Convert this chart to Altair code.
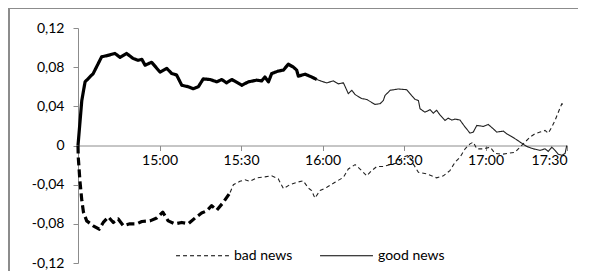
import altair as alt
import pandas as pd

# minutes after 14:30
good_minutes = [0, 1.4, 2.6, 5.6, 8.7, 11.0, 13.6, 15.5, 17.9, 20.2, 22.1, 23.5, 24.7, 27.1,
                30.2, 32.7, 34.5, 36.3, 38.2, 40.6, 42.4, 44.3, 46.1, 48.6, 51.1, 52.9, 54.7,
                56.6, 60.3, 62.7, 65.8, 67.6, 68.8, 70.1, 71.3, 73.7, 75.6, 77.4, 79.3, 80.5,
                81.1, 83.6, 86.0, 87.9, 90.3, 91.6, 94.0, 95.8, 97.7, 99.5, 100.8, 102.0, 104.4,
                106.3, 108.1, 109.3, 111.2, 112.4, 113.0, 114.9, 117.9, 121.0, 122.8, 124.1,
                125.3, 125.9, 127.7, 129.6, 130.8, 132.0, 133.3, 135.1, 136.3, 137.6, 138.8,
                140.6, 142.5, 144.3, 145.5, 146.8, 149.2, 151.0, 152.9, 154.1, 156.6, 157.8,
                159.6, 161.5, 163.3, 165.2, 167.6, 170.1, 171.9, 173.1, 174.4, 175.6, 176.8,
                178.1, 179.3, 179.9]
good_values = [0, 0.046, 0.065, 0.0735, 0.0906, 0.092, 0.094, 0.090, 0.094, 0.089, 0.087, 0.088,
               0.082, 0.085, 0.075, 0.0787, 0.0735, 0.072, 0.0615, 0.060, 0.058, 0.060, 0.068,
               0.0674, 0.065, 0.0674, 0.064, 0.0674, 0.0615, 0.065, 0.0667, 0.066, 0.070, 0.065,
               0.0735, 0.076, 0.077, 0.083, 0.080, 0.077, 0.0708, 0.0728, 0.070, 0.0674, 0.065,
               0.064, 0.066, 0.063, 0.064, 0.053, 0.0564, 0.052, 0.048, 0.047, 0.044, 0.042,
               0.0427, 0.046, 0.051, 0.0564, 0.0577, 0.057, 0.051, 0.047, 0.046, 0.0376, 0.034,
               0.0366, 0.033, 0.036, 0.031, 0.0256, 0.028, 0.026, 0.027, 0.026, 0.0188, 0.0126,
               0.0137, 0.0205, 0.0195, 0.0215, 0.017, 0.0137, 0.0147, 0.012, 0.0092, 0.0058,
               0.0024, -0.001, -0.0034, -0.005, -0.0034, -0.006, -0.0017, -0.005, -0.009,
               -0.010, -0.008, 0.0]
good_bold_until = 87.9

bad_minutes = [0, 0.1, 0.7, 1.4, 2.0, 3.2, 5.6, 7.8, 9.3, 11.2, 13.0, 14.8, 16.7, 19.1, 21.6,
               23.5, 26.5, 29.0, 31.2, 33.2, 35.7, 38.2, 40.6, 43.1, 45.5, 47.4, 49.2, 51.1,
               53.5, 56.0, 57.2, 59.6, 61.5, 63.3, 65.8, 68.8, 71.3, 73.7, 75.6, 78.0, 80.5,
               82.9, 84.8, 86.0, 87.2, 89.1, 91.6, 94.6, 97.7, 99.5, 102.0, 104.4, 106.3,
               108.1, 110.0, 112.4, 114.9, 117.3, 119.7, 121.6, 123.4, 125.3, 128.4, 132.0,
               134.5, 136.9, 138.8, 140.6, 142.5, 144.3, 145.5, 146.8, 149.2, 151.7, 153.5,
               156.0, 158.4, 160.9, 162.7, 164.5, 166.4, 168.2, 170.1, 171.9, 173.1, 174.4,
               175.6, 176.8, 178.1, 179.3]
bad_values = [0, -0.012, -0.036, -0.056, -0.068, -0.077, -0.082, -0.0855, -0.0786, -0.073,
              -0.0786, -0.075, -0.082, -0.080, -0.080, -0.0776, -0.077, -0.074, -0.068, -0.077,
              -0.080, -0.0786, -0.080, -0.074, -0.069, -0.0667, -0.0615, -0.066, -0.058, -0.048,
              -0.040, -0.0366, -0.035, -0.0366, -0.033, -0.032, -0.031, -0.034, -0.044, -0.040,
              -0.0376, -0.036, -0.0434, -0.046, -0.0537, -0.046, -0.0427, -0.0376, -0.0325,
              -0.024, -0.0195, -0.0256, -0.031, -0.0256, -0.0215, -0.0215, -0.0195, -0.018,
              -0.012, -0.010, -0.0188, -0.0274, -0.029, -0.033, -0.031, -0.0256, -0.017, -0.012,
              -0.0034, 0.0017, 0.0034, -0.0034, -0.0034, -0.0017, -0.008, -0.009, -0.008,
              -0.0069, -0.0017, 0.0034, 0.0085, 0.012, 0.0137, 0.0154, 0.0126, 0.0188, 0.0256,
              0.034, 0.0427, 0.041]
bad_bold_until = 56.0

series_names = ["bad news", "good news"]
x_tick_values = [30, 60, 90, 120, 150, 180]
y_tick_values = [-0.12, -0.08, -0.04, 0, 0.04, 0.08, 0.12]

rows = []
for name, mins, vals, cut in [("good news", good_minutes, good_values, good_bold_until),
                              ("bad news", bad_minutes, bad_values, bad_bold_until)]:
    for m, v in zip(mins, vals):
        if m <= cut:
            rows.append({"minute": m, "value": v, "series": name, "seg": "bold"})
        if m >= cut:
            rows.append({"minute": m, "value": v, "series": name, "seg": "thin"})
df = pd.DataFrame(rows)

FONT = "Lato"
GRAY = "#8c8c8c"

x_enc = alt.X("minute:Q",
              scale=alt.Scale(domain=[0, 180], nice=False, zero=False),
              axis=alt.Axis(values=x_tick_values, title=None, offset=-117.5,
                            labelExpr="floor((870 + datum.value) / 60) + ':' + (((870 + datum.value) % 60) == 0 ? '00' : '30')",
                            domainColor=GRAY, tickColor=GRAY, tickSize=5, labelPadding=3,
                            labelFont=FONT, labelFontSize=14, labelColor="black", grid=False))
y_enc = alt.Y("value:Q",
              scale=alt.Scale(domain=[-0.12, 0.12], nice=False),
              axis=alt.Axis(values=y_tick_values, title=None,
                            labelExpr="datum.value == 0 ? '0' : (datum.value < 0 ? '-' : '') + replace(format(abs(datum.value), '.2f'), '.', ',')",
                            domainColor=GRAY, tickColor=GRAY, tickSize=5, labelPadding=9,
                            labelFont=FONT, labelFontSize=14, labelColor="black", grid=False))
dash_thin = alt.StrokeDash("series:N",
                           scale=alt.Scale(domain=series_names, range=[[4, 3], [1, 0]]),
                           legend=alt.Legend(title=None, orient="none", legendX=97, legendY=200,
                                             direction="horizontal", symbolType="stroke",
                                             symbolSize=2800, symbolStrokeWidth=1.2,
                                             symbolStrokeColor="black", labelFont=FONT,
                                             labelFontSize=14, labelColor="black", labelOffset=4,
                                             columnPadding=24, padding=0))
dash_bold = alt.StrokeDash("series:N",
                           scale=alt.Scale(domain=series_names, range=[[8, 4], [1, 0]]),
                           legend=None)

bold = alt.Chart(df).transform_filter("datum.seg == 'bold'").mark_line(
    color="black", strokeWidth=3.2, strokeJoin="round").encode(
    x=x_enc, y=y_enc, strokeDash=dash_bold, detail="series:N", order="minute:Q")
thin = alt.Chart(df).transform_filter("datum.seg == 'thin'").mark_line(
    color="#222222", strokeWidth=1.1).encode(
    x=x_enc, y=y_enc, strokeDash=dash_thin, detail="series:N", order="minute:Q")

frame_left = alt.Chart(df).mark_rule(color=GRAY, strokeWidth=2).encode(
    x=alt.value(-69), y=alt.value(-19), y2=alt.value(260))
frame_top = alt.Chart(df).mark_rule(color=GRAY, strokeWidth=1).encode(
    x=alt.value(-70), x2=alt.value(520), y=alt.value(-19.5))

chart = alt.layer(frame_left, frame_top, thin, bold).resolve_scale(
    strokeDash="independent"
).properties(
    width=489, height=235,
    autosize=alt.AutoSizeParams(type="none"),
    padding={"left": 70, "top": 20, "right": 11, "bottom": 8},
).configure_view(stroke=None)

chart.save("out.html", embed_options={"renderer": "svg", "actions": False})
